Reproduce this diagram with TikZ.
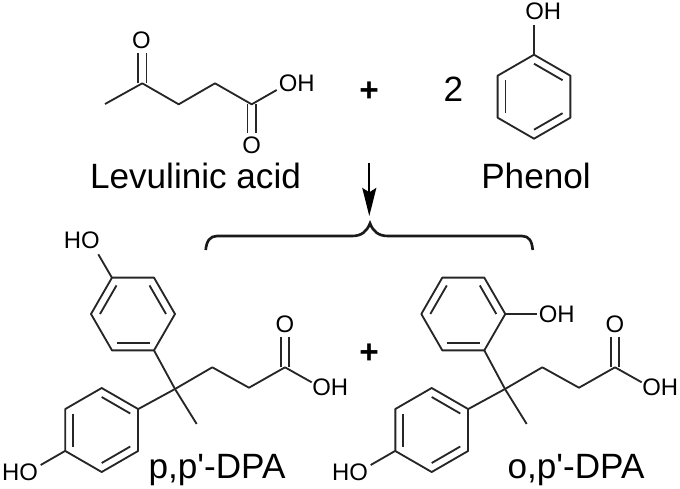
\documentclass[tikz,border=0pt]{standalone}
\usepackage{fontspec}
\setmainfont{Liberation Sans}
\usetikzlibrary{arrows.meta}

\tikzset{
  bond/.style={line width=1.05pt,line join=round,black!85},
  atomlabel/.style={inner sep=0pt,font=\fontsize{13.6}{14}\selectfont},
  molname/.style={inner sep=0pt,anchor=base,font=\fontsize{20}{22}\selectfont},
  plussign/.style={inner sep=0pt,font=\bfseries\fontsize{19}{22}\selectfont}
}

% centre x, centre y, angle of the first vertex
\newcommand{\benzring}[3]{
  \draw[bond] ({#1+42*cos(#3)},{#2-42*sin(#3)})
    \foreach \a in {60,120,...,300} { -- ({#1+42*cos(#3+\a)},{#2-42*sin(#3+\a)}) } -- cycle;
  \foreach \a in {0,120,240} {
    \draw[bond] ({#1+33*cos(#3+\a)},{#2-33*sin(#3+\a)}) -- ({#1+33*cos(#3+\a+60)},{#2-33*sin(#3+\a+60)});
  }
}

\begin{document}
\begin{tikzpicture}[x=0.02cm,y=-0.02cm]
    \useasboundingbox (0,0) rectangle (680,488);

    % Levulinic acid
    \draw[bond] (105,104) coordinate (levme) -- (142.3,83.3) coordinate (levco)
        -- (178.7,104.3) coordinate (leva) -- (215,83.3) coordinate (levb)
        -- (251.7,104.3) coordinate (levc) -- (276.7,90) coordinate (levoh);
    \foreach \s in {-4.2,4.2} {
        \draw[bond] ([xshift=\s*0.02cm]levco) -- ([xshift=\s*0.02cm]142.3,53);
        \draw[bond] ([xshift=\s*0.02cm]levc) -- ([xshift=\s*0.02cm]251.7,133);
    }
    \node[atomlabel] (levotop) at (141.5,40.7) {O};
    \node[atomlabel] (levobot) at (251.7,145.7) {O};
    \node[atomlabel] (levohlabel) at (296.7,83.3) {OH};
    \node[molname] (levname) at (195.5,188) {Levulinic acid};

    % Top row
    \node[plussign] (plustop) at (369,92) {+};
    \node[molname] (two) at (453.3,101.5) {2};

    % Phenol
    \benzring{534}{96.7}{30}
    \node[atomlabel] (phoh) at (543.3,11.7) {OH};
    \coordinate (phc) at (534,54.7);
    \draw[bond] (phc) -- (534,25);
    \node[molname] (phname) at (536,188) {Phenol};

    % Arrow
    \coordinate (arrowtop) at (369.3,163);
    \coordinate (arrowtip) at (369.3,216);
    \draw[line width=1pt,-{Stealth[length=16pt,width=8pt,inset=2.5pt]}] (arrowtop) -- (arrowtip);

    % Brace
    \draw[line width=1.5pt,black!90] (205.7,250) .. controls (206.5,241) and (210,236) .. (217,236)
        -- (352,236) .. controls (362,236) and (367,231) .. (370,223.3)
        .. controls (373,231) and (378,236) .. (388,236)
        -- (522,236) .. controls (529,236) and (532,241) .. (532.7,250);

    % DPA isomers, same skeleton
    \foreach \dx/\nm in {0/pp,330/op} {
        \begin{scope}[shift={(\dx,0)}]
            \benzring{101.7}{430}{30}
            \draw[bond] (175,389) coordinate (cq\nm) -- (212.3,367.3) coordinate (ca\nm)
                -- (249,387.7) coordinate (cb\nm) -- (285,367.3) coordinate (cc\nm)
                -- (311.7,382.3);
            \draw[bond] (cq\nm) -- (196.7,424);
            \draw[bond] (cq\nm) -- (138.3,409);
            \foreach \s in {-4.2,4.2} {
                \draw[bond] ([xshift=\s*0.02cm]cc\nm) -- ([xshift=\s*0.02cm]285,336.7);
            }
            \node[atomlabel] (oa\nm) at (285,324) {O};
            \node[atomlabel] (oh\nm) at (330.3,387.7) {OH};
            \node[atomlabel] (ho\nm) at (20,472.3) {HO};
            \draw[bond] (65,451) -- (40.7,465);
        \end{scope}
    }

    % p,p'-DPA upper ring
    \benzring{133}{314}{0}
    \draw[bond] (154,350.4) -- (cqpp);
    \node[atomlabel] (hotop) at (81.7,240.7) {HO};
    \draw[bond] (111.7,277.3) -- (98.3,254.3);
    \node[molname] (ppname) at (217,478) {p,p\textquotesingle-DPA};

    % o,p'-DPA upper ring
    \benzring{463.3}{314}{0}
    \draw[bond] (484.3,350.4) -- (cqop);
    \draw[bond] (505.3,314) -- (536.7,314);
    \node[atomlabel] (ohring) at (556.7,314.3) {OH};
    \node[molname] (opname) at (576,478) {o,p\textquotesingle-DPA};

    \node[plussign] (plusbot) at (369,354) {+};
\end{tikzpicture}
\end{document}
